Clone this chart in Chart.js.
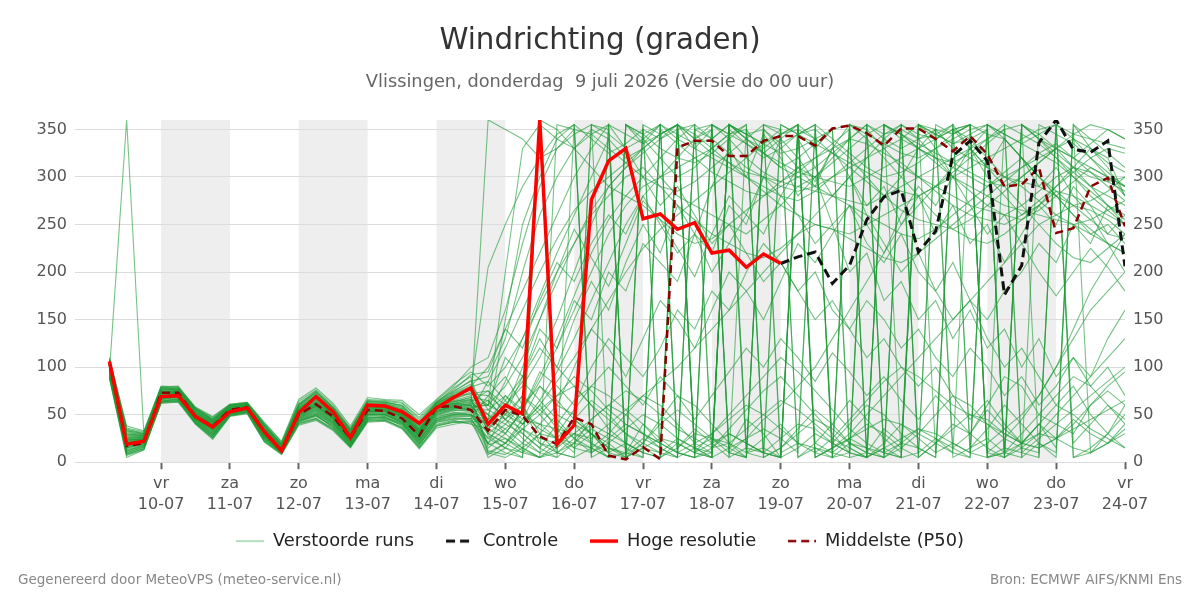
<!DOCTYPE html>
<html lang="nl">
<head>
<meta charset="utf-8">
<title>Windrichting (graden)</title>
<script src="https://cdn.jsdelivr.net/npm/chart.js@4.4.1/dist/chart.umd.min.js"></script>
<style>
  html, body { margin: 0; padding: 0; background: #fff; }
  #wrap { width: 1200px; height: 600px; }
</style>
</head>
<body>
<div id="wrap"><canvas id="windChart" width="1200" height="600"></canvas></div>
<script>
// tijdstappen in uren na do 9 juli 00:00
const uren = [6, 12, 18, 24, 30, 36, 42, 48, 54, 60, 66, 72, 78, 84, 90, 96, 102, 108, 114, 120,
  126, 132, 138, 144, 150, 156, 162, 168, 174, 180, 186, 192, 198, 204, 210, 216, 222, 228, 234, 240,
  246, 252, 258, 264, 270, 276, 282, 288, 294, 300, 306, 312, 318, 324, 330, 336, 342, 348, 354, 360];

const dagUren = [24, 48, 72, 96, 120, 144, 168, 192, 216, 240, 264, 288, 312, 336, 360];
const dagNamen = ['vr', 'za', 'zo', 'ma', 'di', 'wo', 'do', 'vr', 'za', 'zo', 'ma', 'di', 'wo', 'do', 'vr'];
const datums = ['10-07', '11-07', '12-07', '13-07', '14-07', '15-07', '16-07', '17-07',
  '18-07', '19-07', '20-07', '21-07', '22-07', '23-07', '24-07'];
const schaduwDagen = [24, 72, 120, 168, 216, 264, 312];
const richtingTicks = [0, 50, 100, 150, 200, 250, 300, 350];

const hogeResolutie = [106, 19, 22, 69, 70, 48, 37, 53, 57, 32, 12, 52,
  69, 53, 26, 60, 59, 53, 41, 57, 68, 78,
  40, 60, 51, 360, 19, 39, 276, 317, 330, 256,
  261, 245, 252, 220, 223, 205, 219, 209];

const controle = [null, null, null, null, null, null, null, null, null, null,
  null, null, null, null, null, null, null, null, null, null,
  null, null, null, null, null, null, null, null, null, null,
  null, null, null, null, null, null, null, null, null,
  209, 216, 221, 188, 207, 255, 279, 286, 221, 243, 322, 338, 317, 176, 207, 336, 360, 329, 326, 338, 206];

const middelste = [104, 17, 20, 73, 73, 48, 38, 55, 58, 32, 12, 50,
  61, 48, 25, 55, 54, 46, 28, 58, 59, 55, 33, 55, 49,
  27, 19, 47, 40, 7, 3, 16, 3,
  331, 338, 338, 322, 322, 338, 343, 343,
  333, 351, 354, 346, 333, 351, 351, 340, 327, 343, 324,
  290, 292, 310, 241, 246, 290, 299, 248];

// verstoorde runs: eerste 22 tijdstappen (tot 14-07 12u)
const runsBegin = [
  [95, 360, 30, 75, 70, 50, 40, 56, 58, 35, 15, 55, 65, 50, 28, 58, 57, 50, 32, 58, 62, 60],
  [104, 25, 24, 70, 73, 47, 36, 54, 57, 30, 13, 50, 60, 46, 24, 54, 55, 47, 28, 54, 58, 55],
  [98, 12, 18, 66, 70, 44, 30, 52, 55, 28, 11, 45, 52, 40, 20, 50, 50, 42, 22, 48, 52, 50],
  [108, 35, 30, 78, 76, 55, 45, 58, 60, 38, 18, 60, 72, 56, 32, 62, 62, 58, 40, 62, 70, 72],
  [92, 8, 15, 64, 66, 42, 28, 50, 54, 24, 10, 42, 48, 38, 18, 46, 48, 38, 18, 42, 45, 45],
  [100, 22, 25, 72, 74, 50, 40, 56, 58, 33, 14, 53, 63, 50, 27, 57, 58, 52, 33, 57, 64, 66],
  [88, 5, 13, 62, 64, 40, 25, 49, 52, 22, 9, 40, 45, 34, 16, 44, 45, 36, 15, 38, 42, 44],
  [106, 30, 28, 76, 78, 56, 44, 60, 62, 40, 20, 62, 75, 58, 35, 65, 64, 62, 45, 64, 75, 85],
  [96, 18, 22, 68, 70, 46, 34, 53, 56, 30, 12, 48, 56, 44, 22, 52, 52, 45, 25, 50, 56, 58],
  [102, 28, 27, 74, 75, 52, 42, 57, 60, 36, 16, 56, 68, 54, 30, 60, 60, 55, 36, 60, 68, 78],
  [94, 15, 20, 67, 69, 45, 32, 52, 54, 27, 11, 46, 54, 42, 21, 50, 51, 43, 24, 46, 50, 52],
  [110, 38, 33, 80, 79, 58, 48, 61, 63, 42, 22, 66, 78, 62, 38, 68, 66, 65, 50, 66, 82, 95],
  [90, 10, 16, 63, 65, 41, 27, 50, 53, 25, 10, 44, 50, 36, 17, 45, 46, 40, 19, 40, 44, 40],
  [99, 20, 23, 71, 72, 49, 38, 55, 57, 32, 13, 51, 61, 48, 25, 55, 56, 49, 30, 55, 60, 62],
  [103, 26, 26, 73, 74, 51, 41, 56, 59, 34, 15, 54, 66, 52, 29, 58, 59, 53, 34, 58, 65, 70],
  [97, 16, 21, 69, 71, 47, 35, 54, 56, 29, 12, 49, 58, 45, 23, 53, 53, 46, 27, 52, 57, 55],
  [105, 32, 29, 77, 77, 54, 43, 59, 61, 37, 17, 58, 70, 55, 31, 61, 61, 56, 38, 61, 72, 80],
  [93, 12, 17, 65, 67, 43, 29, 51, 53, 26, 10, 43, 50, 39, 19, 47, 47, 41, 20, 44, 48, 48],
  [101, 24, 25, 72, 73, 50, 39, 55, 58, 31, 14, 52, 62, 49, 26, 56, 57, 50, 31, 56, 61, 64],
  [107, 34, 31, 79, 78, 57, 46, 60, 62, 39, 19, 61, 74, 58, 34, 64, 63, 60, 42, 63, 78, 90],
  [91, 9, 14, 63, 65, 41, 26, 49, 52, 23, 9, 41, 46, 35, 16, 43, 44, 37, 16, 39, 43, 42],
  [100, 21, 24, 70, 72, 48, 37, 55, 57, 31, 13, 50, 59, 47, 24, 54, 54, 48, 29, 53, 59, 60],
  [96, 17, 21, 68, 70, 46, 33, 53, 55, 28, 12, 47, 55, 43, 22, 51, 51, 44, 26, 49, 54, 56],
  [104, 27, 27, 75, 75, 52, 42, 58, 60, 35, 16, 57, 67, 53, 30, 59, 60, 54, 35, 59, 66, 74],
  [98, 19, 22, 69, 71, 47, 36, 54, 56, 30, 12, 49, 57, 45, 23, 52, 53, 46, 27, 51, 56, 57],
  [109, 36, 32, 79, 80, 57, 47, 61, 63, 41, 21, 64, 76, 60, 36, 66, 65, 63, 47, 65, 80, 100],
  [89, 7, 13, 62, 63, 40, 24, 48, 51, 21, 8, 39, 44, 33, 15, 42, 43, 35, 14, 36, 40, 43],
  [102, 23, 25, 73, 73, 50, 40, 56, 58, 33, 14, 52, 63, 50, 27, 56, 57, 51, 32, 57, 62, 65],
  [95, 14, 19, 66, 68, 44, 31, 52, 54, 27, 11, 45, 52, 41, 20, 48, 49, 42, 23, 45, 50, 50],
  [106, 31, 29, 76, 77, 55, 44, 59, 61, 38, 18, 59, 71, 56, 33, 62, 62, 57, 40, 62, 73, 82],
  [97, 18, 22, 69, 70, 46, 34, 53, 55, 29, 12, 48, 56, 44, 22, 51, 52, 45, 26, 50, 55, 54],
  [100, 22, 24, 71, 72, 49, 38, 55, 57, 32, 13, 51, 60, 48, 25, 55, 55, 49, 30, 54, 60, 61],
  [93, 11, 17, 64, 67, 43, 29, 51, 53, 25, 10, 43, 49, 38, 18, 46, 47, 40, 20, 43, 47, 46],
  [105, 29, 28, 76, 76, 53, 43, 58, 60, 36, 17, 57, 69, 54, 31, 60, 61, 55, 37, 60, 70, 76],
  [99, 20, 23, 70, 71, 48, 37, 54, 57, 31, 13, 50, 59, 47, 24, 53, 54, 48, 28, 53, 58, 59],
  [103, 25, 26, 74, 74, 51, 41, 57, 59, 34, 15, 55, 65, 51, 28, 58, 58, 52, 33, 58, 64, 68],
  [94, 13, 18, 66, 68, 44, 30, 51, 54, 26, 11, 44, 51, 40, 19, 47, 48, 41, 21, 44, 49, 49],
  [108, 33, 30, 78, 78, 56, 45, 60, 62, 39, 19, 60, 73, 57, 33, 63, 63, 59, 41, 63, 74, 86],
  [96, 16, 20, 67, 69, 45, 33, 52, 55, 28, 11, 47, 54, 42, 21, 50, 50, 43, 24, 47, 52, 53],
  [101, 23, 25, 72, 73, 50, 39, 56, 58, 32, 14, 52, 61, 49, 26, 56, 56, 50, 31, 56, 61, 63],
  [97, 21, 23, 70, 71, 47, 35, 54, 56, 30, 12, 49, 58, 46, 23, 53, 54, 47, 28, 52, 57, 58],
  [104, 28, 27, 74, 75, 53, 42, 57, 60, 35, 16, 56, 67, 53, 29, 59, 59, 54, 35, 59, 67, 72],
  [92, 10, 16, 64, 66, 42, 28, 50, 53, 24, 10, 43, 49, 37, 17, 45, 46, 39, 18, 42, 46, 46],
  [100, 24, 24, 72, 73, 50, 39, 56, 58, 33, 14, 53, 63, 50, 27, 57, 57, 51, 32, 57, 62, 66],
  [107, 33, 30, 78, 77, 56, 45, 60, 62, 39, 19, 60, 74, 57, 34, 64, 63, 60, 43, 63, 76, 92],
  [95, 15, 19, 67, 69, 45, 32, 52, 55, 27, 11, 46, 53, 42, 20, 49, 50, 42, 23, 46, 51, 50],
  [102, 26, 26, 73, 74, 51, 40, 56, 59, 34, 15, 54, 64, 51, 28, 57, 58, 52, 34, 58, 63, 68],
  [90, 8, 14, 63, 64, 41, 26, 49, 52, 22, 9, 41, 46, 35, 16, 43, 44, 36, 16, 38, 42, 41],
  [99, 19, 22, 70, 71, 48, 37, 54, 57, 31, 13, 50, 59, 47, 25, 54, 55, 49, 29, 54, 59, 60],
  [105, 30, 28, 76, 76, 54, 43, 58, 61, 37, 17, 58, 70, 55, 31, 61, 61, 56, 39, 61, 71, 79]
];

// verstoorde runs: overige 38 tijdstappen (14-07 18u t/m 24-07 00u)
const runsEind = [
  [30, 45, 60, 20, 15, 40, 30, 10, 355, 340, 320, 300, 310, 330, 345, 10, 25, 40, 20, 350, 335, 320, 300, 280, 300, 330, 350, 15, 30, 60, 90, 80, 50, 40, 30, 60, 75, 60],
  [55, 70, 50, 35, 25, 20, 45, 60, 50, 30, 15, 5, 350, 340, 355, 20, 10, 5, 345, 330, 350, 15, 5, 20, 40, 25, 10, 355, 330, 300, 280, 260, 270, 290, 310, 330, 320, 280],
  [40, 60, 80, 110, 150, 200, 250, 290, 310, 330, 300, 280, 270, 260, 250, 240, 255, 270, 290, 300, 320, 340, 355, 10, 20, 15, 5, 350, 340, 320, 300, 290, 275, 260, 250, 240, 230, 220],
  [70, 90, 60, 30, 10, 5, 15, 30, 50, 70, 60, 40, 20, 10, 355, 345, 350, 5, 15, 30, 20, 10, 5, 355, 340, 330, 320, 310, 300, 290, 305, 320, 300, 280, 260, 240, 250, 230],
  [20, 10, 5, 360, 350, 330, 310, 290, 280, 300, 320, 340, 355, 15, 30, 20, 10, 5, 350, 340, 20, 40, 60, 50, 30, 15, 5, 350, 330, 310, 290, 270, 250, 230, 215, 210, 225, 240],
  [60, 50, 40, 55, 70, 80, 60, 35, 20, 10, 5, 355, 340, 350, 10, 25, 45, 60, 80, 100, 130, 160, 190, 220, 250, 270, 290, 310, 330, 350, 10, 30, 50, 70, 90, 80, 60, 40],
  [25, 15, 10, 30, 50, 40, 20, 5, 10, 25, 15, 5, 350, 355, 5, 15, 10, 355, 345, 350, 5, 20, 15, 10, 350, 340, 345, 355, 10, 20, 35, 50, 70, 100, 130, 160, 180, 200],
  [90, 130, 200, 260, 300, 330, 350, 340, 320, 330, 345, 355, 10, 5, 350, 335, 320, 330, 345, 355, 5, 10, 355, 340, 330, 340, 350, 5, 15, 25, 10, 355, 340, 330, 320, 335, 350, 340],
  [45, 55, 30, 15, 40, 65, 80, 70, 55, 40, 25, 10, 5, 15, 35, 55, 75, 90, 70, 50, 30, 10, 350, 330, 310, 300, 290, 280, 270, 265, 260, 270, 285, 300, 310, 305, 295, 300],
  [205, 250, 290, 320, 345, 355, 10, 20, 5, 350, 340, 355, 15, 25, 20, 5, 350, 330, 310, 300, 315, 330, 345, 355, 5, 10, 350, 330, 320, 310, 300, 295, 290, 280, 270, 275, 285, 300],
  [10, 5, 15, 30, 25, 10, 355, 345, 330, 340, 355, 10, 20, 30, 45, 60, 50, 35, 20, 10, 5, 355, 350, 5, 20, 35, 25, 10, 355, 345, 340, 320, 300, 285, 270, 255, 240, 235],
  [80, 100, 130, 165, 200, 230, 260, 280, 300, 310, 290, 270, 255, 240, 230, 220, 215, 225, 240, 260, 280, 300, 320, 340, 355, 5, 20, 40, 30, 15, 5, 355, 340, 320, 300, 280, 265, 250],
  [35, 25, 15, 5, 355, 350, 5, 15, 10, 5, 355, 345, 335, 340, 355, 10, 15, 5, 355, 5, 15, 30, 50, 70, 90, 110, 130, 150, 170, 190, 210, 230, 250, 260, 270, 265, 255, 240],
  [50, 40, 60, 80, 65, 45, 30, 20, 35, 50, 40, 25, 15, 5, 355, 340, 325, 310, 320, 335, 350, 5, 10, 355, 345, 330, 320, 315, 325, 340, 355, 10, 25, 40, 55, 70, 85, 100],
  [15, 30, 55, 85, 120, 160, 200, 240, 270, 290, 300, 310, 320, 330, 345, 355, 5, 355, 345, 335, 325, 315, 305, 295, 285, 280, 290, 305, 320, 335, 350, 5, 20, 10, 355, 340, 325, 310],
  [65, 45, 25, 10, 5, 20, 35, 25, 15, 5, 350, 335, 320, 305, 295, 285, 280, 290, 300, 310, 325, 340, 355, 10, 5, 355, 345, 335, 345, 355, 10, 20, 30, 25, 15, 10, 20, 30],
  [100, 140, 180, 220, 260, 300, 330, 355, 5, 15, 10, 355, 340, 325, 315, 305, 300, 295, 290, 285, 280, 275, 270, 280, 290, 300, 310, 320, 330, 340, 350, 355, 5, 355, 345, 340, 335, 330],
  [5, 15, 35, 20, 10, 5, 355, 350, 5, 20, 40, 55, 40, 25, 10, 5, 350, 335, 345, 355, 10, 25, 40, 30, 15, 5, 355, 345, 355, 5, 15, 10, 5, 355, 20, 40, 60, 45],
  [75, 60, 45, 40, 35, 30, 25, 40, 55, 70, 85, 100, 120, 140, 160, 180, 200, 220, 240, 250, 245, 235, 225, 215, 210, 220, 235, 250, 265, 280, 295, 310, 325, 335, 320, 305, 290, 275],
  [30, 20, 40, 65, 95, 130, 170, 210, 250, 280, 300, 320, 340, 355, 10, 5, 355, 345, 350, 5, 15, 25, 15, 5, 355, 340, 320, 300, 285, 270, 260, 255, 265, 280, 295, 310, 300, 290],
  [45, 35, 20, 10, 25, 45, 30, 15, 5, 355, 10, 25, 15, 5, 355, 340, 330, 345, 355, 10, 25, 45, 65, 85, 100, 90, 75, 60, 50, 40, 30, 20, 15, 25, 40, 60, 80, 95],
  [360, 350, 340, 320, 330, 345, 355, 10, 20, 10, 355, 340, 330, 320, 310, 300, 290, 280, 275, 285, 300, 315, 330, 345, 355, 10, 25, 15, 5, 355, 340, 320, 300, 280, 260, 245, 230, 220],
  [20, 35, 50, 40, 25, 15, 10, 25, 40, 30, 20, 10, 5, 355, 345, 350, 5, 15, 30, 45, 35, 20, 10, 5, 355, 345, 340, 350, 355, 5, 10, 355, 345, 330, 310, 290, 270, 255],
  [60, 80, 110, 150, 190, 230, 265, 290, 310, 325, 340, 350, 355, 5, 15, 25, 35, 25, 10, 355, 340, 325, 310, 300, 305, 315, 330, 345, 355, 10, 5, 355, 340, 325, 310, 300, 295, 285],
  [12, 8, 20, 40, 60, 50, 30, 15, 8, 20, 45, 70, 60, 40, 20, 10, 5, 15, 35, 55, 40, 20, 10, 5, 15, 30, 50, 70, 60, 40, 25, 15, 30, 50, 70, 90, 110, 130],
  [110, 160, 230, 290, 330, 350, 345, 330, 315, 300, 290, 285, 295, 310, 325, 340, 355, 10, 20, 15, 5, 355, 345, 335, 325, 320, 330, 340, 350, 355, 5, 15, 10, 355, 340, 320, 300, 280],
  [8, 20, 10, 5, 15, 30, 20, 10, 5, 355, 345, 355, 10, 30, 50, 70, 90, 110, 95, 75, 55, 35, 20, 10, 5, 355, 345, 335, 340, 350, 5, 20, 40, 60, 50, 35, 25, 15],
  [40, 30, 55, 90, 130, 175, 220, 255, 280, 270, 255, 240, 230, 235, 250, 265, 280, 295, 310, 320, 330, 340, 335, 325, 315, 300, 285, 270, 260, 255, 250, 260, 275, 290, 305, 320, 330, 325],
  [25, 40, 30, 15, 5, 355, 340, 325, 335, 350, 5, 20, 10, 355, 340, 320, 305, 295, 305, 320, 335, 350, 5, 15, 5, 355, 350, 345, 355, 10, 25, 45, 70, 100, 140, 180, 210, 240],
  [55, 45, 35, 25, 20, 30, 45, 60, 75, 65, 50, 35, 25, 15, 20, 35, 50, 65, 55, 40, 25, 15, 5, 355, 345, 330, 315, 300, 290, 280, 270, 265, 260, 255, 250, 255, 265, 275],
  [45, 150, 250, 300, 340, 355, 5, 355, 345, 335, 345, 355, 10, 20, 30, 20, 10, 5, 355, 340, 325, 310, 295, 280, 265, 255, 250, 245, 255, 270, 285, 300, 315, 330, 340, 330, 315, 305],
  [18, 25, 12, 5, 10, 25, 40, 30, 20, 10, 5, 15, 30, 25, 15, 5, 355, 350, 5, 15, 10, 5, 355, 345, 350, 5, 20, 35, 50, 45, 30, 20, 15, 25, 35, 45, 55, 65],
  [70, 55, 40, 60, 85, 110, 140, 170, 200, 225, 245, 260, 275, 290, 305, 320, 335, 350, 5, 20, 10, 355, 340, 320, 300, 280, 260, 245, 235, 230, 240, 255, 270, 285, 280, 270, 260, 250],
  [35, 50, 70, 55, 40, 25, 15, 5, 355, 345, 330, 320, 315, 325, 340, 355, 10, 25, 40, 35, 20, 10, 5, 355, 345, 335, 325, 315, 305, 295, 290, 300, 315, 330, 345, 355, 350, 340],
  [60, 200, 330, 355, 10, 20, 15, 5, 355, 345, 355, 5, 15, 10, 355, 345, 335, 325, 330, 340, 350, 355, 5, 15, 25, 35, 30, 20, 10, 5, 355, 345, 335, 320, 305, 290, 280, 270],
  [10, 20, 35, 50, 70, 90, 75, 55, 40, 30, 20, 10, 5, 355, 345, 335, 325, 315, 305, 300, 295, 290, 300, 310, 320, 330, 340, 350, 355, 5, 10, 5, 355, 345, 335, 320, 305, 290],
  [45, 65, 90, 120, 100, 80, 60, 45, 30, 20, 10, 5, 355, 340, 325, 310, 300, 290, 285, 290, 300, 310, 320, 330, 340, 355, 10, 20, 10, 355, 345, 335, 325, 315, 300, 285, 270, 260],
  [28, 15, 5, 355, 340, 330, 345, 355, 5, 15, 25, 20, 10, 5, 355, 345, 335, 345, 355, 5, 15, 25, 35, 45, 40, 30, 20, 10, 5, 355, 345, 335, 345, 355, 5, 10, 20, 35],
  [85, 120, 160, 200, 235, 265, 285, 300, 315, 330, 345, 355, 5, 10, 355, 340, 325, 310, 300, 290, 280, 270, 260, 250, 240, 235, 245, 260, 275, 290, 300, 310, 320, 330, 320, 310, 300, 290],
  [50, 30, 15, 5, 20, 45, 65, 50, 30, 15, 5, 355, 345, 330, 315, 300, 285, 270, 260, 250, 245, 240, 250, 260, 270, 280, 290, 300, 310, 320, 330, 340, 350, 355, 5, 15, 30, 50],
  [60, 110, 90, 140, 120, 170, 150, 200, 180, 230, 210, 190, 240, 220, 270, 250, 300, 280, 260, 230, 250, 200, 220, 170, 190, 150, 170, 130, 160, 120, 140, 100, 130, 90, 110, 80, 100, 70],
  [75, 50, 90, 130, 100, 150, 190, 160, 210, 250, 220, 270, 240, 290, 330, 300, 345, 320, 280, 300, 250, 270, 230, 210, 240, 200, 180, 210, 170, 150, 180, 200, 230, 210, 250, 230, 270, 250],
  [40, 70, 55, 95, 80, 60, 100, 130, 110, 90, 120, 160, 140, 180, 160, 200, 230, 210, 180, 200, 160, 140, 170, 150, 120, 140, 110, 90, 120, 100, 70, 90, 60, 80, 110, 90, 130, 160],
  [50, 85, 130, 175, 220, 260, 300, 340, 10, 40, 20, 355, 330, 350, 15, 45, 30, 5, 340, 310, 280, 300, 260, 230, 200, 220, 180, 150, 170, 130, 100, 120, 90, 60, 80, 50, 30, 60],
  [95, 140, 120, 170, 210, 190, 230, 260, 240, 280, 250, 220, 240, 200, 230, 260, 240, 280, 310, 290, 330, 300, 270, 290, 250, 280, 240, 270, 230, 250, 210, 240, 270, 250, 290, 270, 240, 260],
  [30, 20, 45, 80, 60, 100, 140, 120, 90, 130, 170, 150, 120, 160, 200, 180, 150, 190, 230, 210, 240, 270, 250, 220, 260, 290, 270, 300, 330, 310, 340, 320, 290, 310, 280, 260, 230, 200],
  [65, 45, 70, 50, 30, 55, 80, 100, 80, 60, 90, 70, 45, 70, 95, 120, 100, 130, 110, 85, 115, 95, 70, 90, 65, 45, 70, 50, 30, 55, 35, 20, 40, 25, 45, 30, 20, 40],
  [20, 55, 100, 150, 200, 245, 215, 185, 230, 275, 255, 225, 195, 240, 280, 260, 300, 340, 320, 295, 330, 355, 10, 35, 20, 355, 330, 300, 270, 240, 260, 230, 200, 175, 200, 225, 205, 180],
  [35, 60, 85, 65, 45, 25, 10, 355, 330, 300, 270, 290, 260, 230, 250, 220, 190, 210, 180, 150, 170, 140, 110, 130, 100, 80, 100, 70, 45, 65, 40, 20, 40, 15, 355, 330, 310, 280],
  [85, 65, 40, 60, 35, 15, 30, 10, 355, 335, 355, 15, 35, 20, 5, 350, 325, 340, 355, 20, 40, 65, 45, 25, 10, 355, 340, 355, 15, 35, 60, 40, 20, 5, 350, 10, 30, 15]
];

Chart.defaults.font.family = "'DejaVu Sans', 'Noto Sans', sans-serif";

function punten(waarden) {
  return waarden.map((v, i) => ({ x: uren[i], y: v }));
}

// klein lijnstukje voor de legenda, met dezelfde streepjes als de lijn
function legendaLijn(kleur, dikte, streep) {
  const c = document.createElement('canvas');
  c.width = 28;
  c.height = 8;
  const g = c.getContext('2d');
  g.strokeStyle = kleur;
  g.lineWidth = dikte;
  g.setLineDash(streep || []);
  g.beginPath();
  g.moveTo(0, 4);
  g.lineTo(28, 4);
  g.stroke();
  return c;
}

let datasets = [
  {
    label: 'Hoge resolutie',
    data: punten(hogeResolutie),
    borderColor: '#ff0000',
    borderWidth: 3.5
  },
  {
    label: 'Controle',
    data: punten(controle),
    borderColor: '#111111',
    borderDash: [9, 5],
    borderWidth: 3
  },
  {
    label: 'Middelste (P50)',
    data: punten(middelste),
    borderColor: '#8b0000',
    borderDash: [8, 5],
    borderWidth: 2.5
  }
];

runsBegin.forEach((begin, k) => {
  datasets.push({
    label: 'Verstoorde runs',
    data: punten(begin.concat(runsEind[k])),
    borderColor: 'rgba(30, 155, 55, 0.6)',
    borderWidth: 1.1
  });
});

const legendaVolgorde = { 'Verstoorde runs': 0, 'Controle': 1, 'Hoge resolutie': 2, 'Middelste (P50)': 3 };

const dagSchaduw = {
  id: 'dagSchaduw',
  beforeDraw(chart) {
    const { ctx, chartArea, scales: { x } } = chart;
    ctx.save();
    ctx.fillStyle = '#eeeeee';
    schaduwDagen.forEach(start => {
      const links = x.getPixelForValue(start);
      const rechts = x.getPixelForValue(start + 24);
      ctx.fillRect(links, chartArea.top, rechts - links, chartArea.bottom - chartArea.top);
    });
    ctx.restore();
  }
};

// legenda iets hoger zetten, dichter onder de datums
const legendaOmhoog = {
  id: 'legendaOmhoog',
  afterLayout(chart) {
    chart.legend.top -= 22;
    chart.legend.bottom -= 22;
  }
};

const voetTekst = {
  id: 'voetTekst',
  afterDraw(chart) {
    const ctx = chart.ctx;
    ctx.save();
    ctx.font = "13.5px 'DejaVu Sans', sans-serif";
    ctx.fillStyle = '#888888';
    ctx.textBaseline = 'middle';
    ctx.textAlign = 'left';
    ctx.fillText('Gegenereerd door MeteoVPS (meteo-service.nl)', 18, 580);
    ctx.textAlign = 'right';
    ctx.fillText('Bron: ECMWF AIFS/KNMI Ens', 1182, 580);
    ctx.restore();
  }
};

const richtingAs = (positie, raster) => ({
  type: 'linear',
  position: positie,
  min: 0,
  max: 360,
  afterBuildTicks: s => { s.ticks = richtingTicks.map(v => ({ value: v })); },
  afterFit: s => { s.width = 75; },
  grid: { display: raster, color: '#dcdcdc', lineWidth: 1, drawTicks: false },
  border: { display: false },
  ticks: { color: '#555555', font: { size: 16 }, padding: 8 }
});

new Chart(document.getElementById('windChart'), {
  type: 'line',
  data: { datasets: datasets },
  options: {
    responsive: false,
    animation: false,
    devicePixelRatio: 1,
    layout: { padding: { top: 0, left: 0, right: 0, bottom: 18 } },
    elements: {
      point: { radius: 0 },
      line: { tension: 0, fill: false }
    },
    plugins: {
      title: {
        display: true,
        text: 'Windrichting (graden)',
        color: '#333333',
        font: { size: 29.3, weight: 'normal' },
        padding: { top: 24, bottom: 0 }
      },
      subtitle: {
        display: true,
        text: 'Vlissingen, donderdag  9 juli 2026 (Versie do 00 uur)',
        color: '#666666',
        font: { size: 17.8 },
        padding: { top: 13, bottom: 26.4 }
      },
      legend: {
        position: 'bottom',
        labels: {
          color: '#222222',
          font: { size: 17.8 },
          usePointStyle: true,
          pointStyleWidth: 28,
          padding: 32,
          generateLabels: (chart) => Chart.defaults.plugins.legend.labels.generateLabels(chart).map(item => {
            const ds = chart.data.datasets[item.datasetIndex];
            item.pointStyle = legendaLijn(ds.borderColor, ds.borderWidth, ds.borderDash);
            return item;
          }),
          filter: (item) => item.datasetIndex <= 3,
          sort: (a, b) => legendaVolgorde[a.text] - legendaVolgorde[b.text]
        }
      },
      tooltip: { enabled: false }
    },
    scales: {
      x: {
        type: 'linear',
        min: -6,
        max: 360,
        afterBuildTicks: s => { s.ticks = dagUren.map(v => ({ value: v })); },
        afterFit: s => { s.height = 60; },
        grid: { drawOnChartArea: false, drawTicks: true, tickLength: 7, tickColor: '#666666', tickWidth: 2 },
        border: { display: false },
        ticks: {
          color: '#555555',
          font: { size: 16, lineHeight: 1.3 },
          padding: 4,
          maxRotation: 0,
          autoSkip: false,
          callback: (waarde) => {
            const k = dagUren.indexOf(waarde);
            return k < 0 ? '' : [dagNamen[k], datums[k]];
          }
        }
      },
      y: richtingAs('left', true),
      y2: richtingAs('right', false)
    }
  },
  plugins: [dagSchaduw, legendaOmhoog, voetTekst]
});
</script>
</body>
</html>
